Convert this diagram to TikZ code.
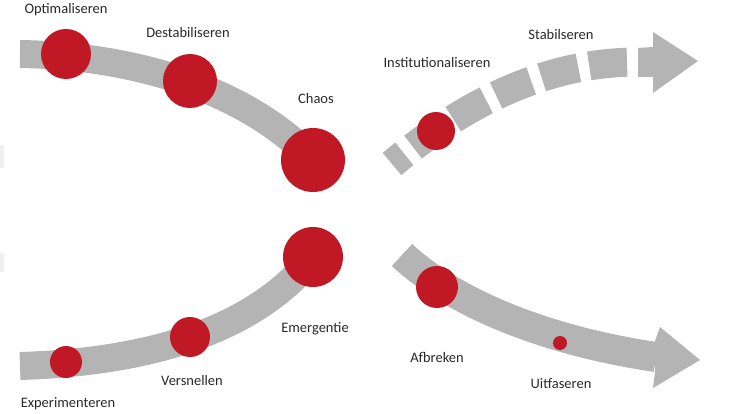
\documentclass[tikz,border=0pt]{standalone}
\usepackage{fontspec}
\setmainfont{Carlito}
\definecolor{band}{RGB}{180,180,180}
\definecolor{dot}{RGB}{192,24,36}
\definecolor{txt}{RGB}{40,40,40}
\begin{document}
\begin{tikzpicture}[x=1pt,y=-1pt,
  bandline/.style={draw=band,line width=28pt},
  ball/.style={circle,fill=dot,inner sep=0pt,minimum size=#1},
  lbl/.style={text=txt,font=\fontsize{14.5}{16}\selectfont,inner sep=0pt}]
\useasboundingbox (0,0) rectangle (733,414);
% faint edge marks
\fill[black!6] (0,145) rectangle (4,168);
\fill[black!6] (0,253) rectangle (4,272);
% top-left band
\coordinate (tl0) at (20,54);
\coordinate (tl1) at (313,160);
\draw[bandline] (tl0) .. controls (150,56) and (255,98) .. (tl1);
% bottom-left band
\coordinate (bl0) at (20,366);
\coordinate (bl1) at (313,257);
\draw[bandline] (bl0) .. controls (150,362) and (255,330) .. (bl1);
% top-right dashed arrow
\coordinate (tr0) at (638,62);
\coordinate (tr1) at (392,164);
\draw[draw=band,line width=29pt,dash pattern=on 38pt off 11pt,dash phase=38pt]
  (tr0) .. controls (550,62) and (468,100) .. (tr1);
\fill[band] (638,48) -- (653,47) -- (653,32) -- (698,61) -- (653,93) -- (653,77) -- (638,77) -- cycle;
% bottom-right arrow
\coordinate (br0) at (402,255);
\coordinate (br1) at (656,357);
\draw[draw=band,line width=30pt] (br0) .. controls (450,300) and (540,340) .. (br1);
\fill[band] (655,341) -- (660,327) -- (700,360) -- (653,388) -- (655,372) -- cycle;
% circles
\node[ball=50pt] (opt) at (66,54) {};
\node[ball=54pt] (des) at (190,81) {};
\node[ball=64pt] (cha) at (313,160) {};
\node[ball=32pt] (exp) at (66,362) {};
\node[ball=40pt] (ver) at (190,337) {};
\node[ball=60pt] (eme) at (313,257) {};
\node[ball=38pt] (ins) at (436,131) {};
\node[ball=42pt] (afb) at (437,287) {};
\node[ball=14pt] (uit) at (560,343) {};
% labels
\node[lbl] (lopt) at (66,10) {Optimaliseren};
\node[lbl] (ldes) at (188,33) {Destabiliseren};
\node[lbl] (lcha) at (316,99) {Chaos};
\node[lbl] (lexp) at (68,404) {Experimenteren};
\node[lbl] (lver) at (192,381) {Versnellen};
\node[lbl] (leme) at (315,329) {Emergentie};
\node[lbl] (lins) at (437,63) {Institutionaliseren};
\node[lbl] (lsta) at (561,35) {Stabilseren};
\node[lbl] (lafb) at (437,357) {Afbreken};
\node[lbl] (luit) at (561,384) {Uitfaseren};
\end{tikzpicture}
\end{document}
